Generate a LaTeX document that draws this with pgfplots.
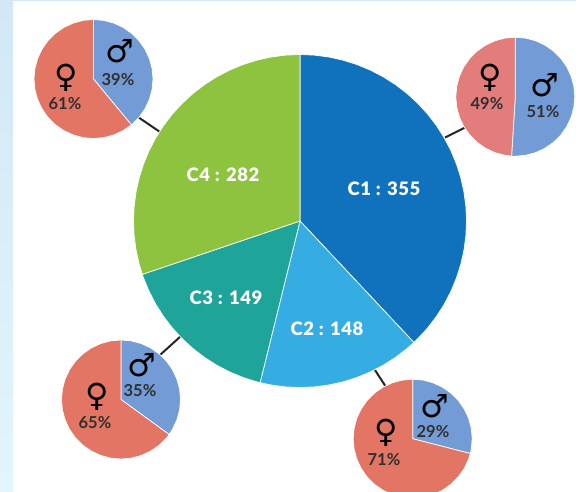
\documentclass[border=0pt]{standalone}
\usepackage{pgfplots}
\pgfplotsset{compat=1.18}
\usepgfplotslibrary{polar}
\usepackage{fontspec}
\setmainfont{Lato}
\newfontfamily\symfont{DejaVu Sans}
\newfontfamily\heavy[LetterSpace=3]{Lato Black}
\definecolor{cOne}{HTML}{1071BC}
\definecolor{cTwo}{HTML}{35ADE2}
\definecolor{cThree}{HTML}{1EA498}
\definecolor{cFour}{HTML}{8DC33E}
\definecolor{male}{HTML}{739CD6}
\definecolor{female}{HTML}{E27563}
\definecolor{femaleB}{HTML}{E27D7B}
\definecolor{txt}{HTML}{303030}
\definecolor{bgTop}{HTML}{D2E8F6}
\definecolor{bgBot}{HTML}{E2F5FB}
\pgfplotsset{pie/.style={hide axis,scale only axis,clip=false,anchor=center,
  xmin=0,xmax=360,ymin=0,ymax=1}}
\newcommand\smallpie[5]{%
\begin{polaraxis}[pie,width=119pt,height=119pt,at={(#1pt,-#2pt)}]
\addplot[fill=male,draw=white,line width=0.7pt] coordinates {#3} -- cycle;
\addplot[fill=#5,draw=white,line width=0.7pt] coordinates {#4} -- cycle;
\end{polaraxis}}
\newcommand\clabel[3]{\node[text=white,inner sep=0pt,font=\heavy\fontsize{18.5}{20}\selectfont] at (#1,#2) {#3};}
\newcommand\pct[3]{\node[text=txt,inner sep=0pt,font=\bfseries\fontsize{16.5}{17}\selectfont] at (#1,#2) {#3};}
\newcommand\sym[3]{\node[text=black,inner sep=0pt,font=\symfont\fontsize{32}{33}\selectfont] at (#1,#2) {#3};}
\begin{document}
\begin{tikzpicture}[x=1pt,y=-1pt]
\path[use as bounding box,clip] (0,0) rectangle (576,491);
\fill[white] (0,0) rectangle (576,491);
\shade[top color=bgTop,bottom color=bgBot] (0,0) rectangle (13,491);
\fill[bgTop] (0,0) rectangle (576,1.2);
\draw[line width=2pt,black!85] (138,117) -- (160,132);
\draw[line width=2pt,black!85] (445,137.5) -- (466,127);
\draw[line width=2pt,black!85] (160,355) -- (181,336);
\draw[line width=2pt,black!85] (373,367) -- (386,387);
\begin{polaraxis}[pie,width=333pt,height=333pt,at={(300pt,-221pt)}]
\addplot[fill=cOne,draw=white,line width=0.7pt] coordinates {(0,0)(90,1)(85,1)(80,1)(75,1)(70,1)(65,1)(60,1)(55,1)(50,1)(45,1)(40,1)(35,1)(30,1)(25,1)(20,1)(15,1)(10,1)(5,1)(0,1)(-5,1)(-10,1)(-15,1)(-20,1)(-25,1)(-30,1)(-35,1)(-40,1)(-45,1)(-46.83,1)} -- cycle;
\addplot[fill=cTwo,draw=white,line width=0.7pt] coordinates {(0,0)(-46.83,1)(-50,1)(-55,1)(-60,1)(-65,1)(-70,1)(-75,1)(-80,1)(-85,1)(-90,1)(-95,1)(-100,1)(-103.87,1)} -- cycle;
\addplot[fill=cThree,draw=white,line width=0.7pt] coordinates {(0,0)(-103.87,1)(-105,1)(-110,1)(-115,1)(-120,1)(-125,1)(-130,1)(-135,1)(-140,1)(-145,1)(-150,1)(-155,1)(-160,1)(-161.3,1)} -- cycle;
\addplot[fill=cFour,draw=white,line width=0.7pt] coordinates {(0,0)(-161.3,1)(-165,1)(-170,1)(-175,1)(-180,1)(-185,1)(-190,1)(-195,1)(-200,1)(-205,1)(-210,1)(-215,1)(-220,1)(-225,1)(-230,1)(-235,1)(-240,1)(-245,1)(-250,1)(-255,1)(-260,1)(-265,1)(-270,1)} -- cycle;
\end{polaraxis}
\smallpie{93.5}{79}
 {(0,0)(90,1)(80,1)(70,1)(60,1)(50,1)(40,1)(30,1)(20,1)(10,1)(0,1)(-10,1)(-20,1)(-30,1)(-40,1)(-50.4,1)}
 {(0,0)(-50.4,1)(-60,1)(-70,1)(-80,1)(-90,1)(-100,1)(-110,1)(-120,1)(-130,1)(-140,1)(-150,1)(-160,1)(-170,1)(-180,1)(-190,1)(-200,1)(-210,1)(-220,1)(-230,1)(-240,1)(-250,1)(-260,1)(-270,1)}{female}
\smallpie{515.3}{96.7}
 {(0,0)(90,1)(80,1)(70,1)(60,1)(50,1)(40,1)(30,1)(20,1)(10,1)(0,1)(-10,1)(-20,1)(-30,1)(-40,1)(-50,1)(-60,1)(-70,1)(-80,1)(-90,1)(-93.6,1)}
 {(0,0)(-93.6,1)(-100,1)(-110,1)(-120,1)(-130,1)(-140,1)(-150,1)(-160,1)(-170,1)(-180,1)(-190,1)(-200,1)(-210,1)(-220,1)(-230,1)(-240,1)(-250,1)(-260,1)(-270,1)}{femaleB}
\smallpie{121}{399.5}
 {(0,0)(90,1)(80,1)(70,1)(60,1)(50,1)(40,1)(30,1)(20,1)(10,1)(0,1)(-10,1)(-20,1)(-30,1)(-36,1)}
 {(0,0)(-36,1)(-40,1)(-50,1)(-60,1)(-70,1)(-80,1)(-90,1)(-100,1)(-110,1)(-120,1)(-130,1)(-140,1)(-150,1)(-160,1)(-170,1)(-180,1)(-190,1)(-200,1)(-210,1)(-220,1)(-230,1)(-240,1)(-250,1)(-260,1)(-270,1)}{female}
\smallpie{412.7}{438.7}
 {(0,0)(90,1)(80,1)(70,1)(60,1)(50,1)(40,1)(30,1)(20,1)(10,1)(0,1)(-10,1)(-14.4,1)}
 {(0,0)(-14.4,1)(-20,1)(-30,1)(-40,1)(-50,1)(-60,1)(-70,1)(-80,1)(-90,1)(-100,1)(-110,1)(-120,1)(-130,1)(-140,1)(-150,1)(-160,1)(-170,1)(-180,1)(-190,1)(-200,1)(-210,1)(-220,1)(-230,1)(-240,1)(-250,1)(-260,1)(-270,1)}{female}
\clabel{384}{189}{C1 : 355}
\clabel{327}{329}{C2 : 148}
\clabel{226}{298}{C3 : 149}
\clabel{223}{175}{C4 : 282}
\sym{120}{51.5}{♂}\pct{118}{80}{39\%}
\sym{66}{77.5}{♀}\pct{65}{104}{61\%}
\sym{545}{85.5}{♂}\pct{543}{112}{51\%}
\sym{490}{77.5}{♀}\pct{487}{104}{49\%}
\sym{142}{365.5}{♂}\pct{140}{391}{35\%}
\sym{97}{396.5}{♀}\pct{95}{423}{65\%}
\sym{435}{406.5}{♂}\pct{433}{432}{29\%}
\sym{386}{432.5}{♀}\pct{384}{460}{71\%}
\end{tikzpicture}
\end{document}
